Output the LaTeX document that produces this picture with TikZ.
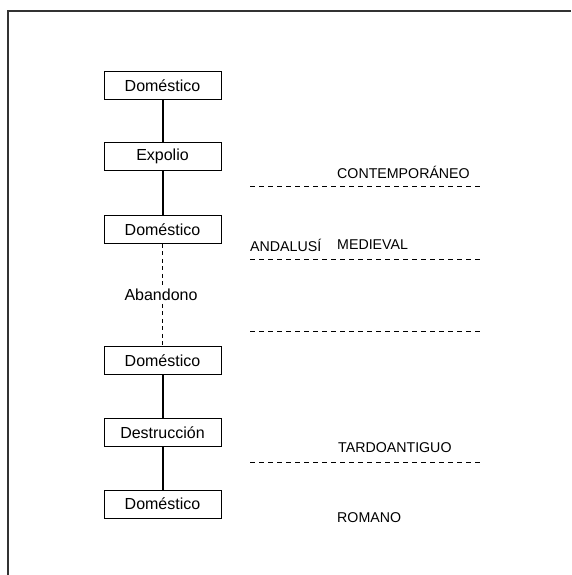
\documentclass[tikz,border=0pt]{standalone}
\usepackage{fontspec}
\setmainfont{Liberation Sans}
\tikzset{
  fase/.style={draw, line width=0.9pt, minimum width=117pt, minimum height=28pt, inner sep=0pt, font=\fontsize{16}{19}\selectfont},
  periodo/.style={anchor=west, inner sep=0pt, font=\fontsize{14.2}{17}\selectfont},
  seq/.style={line width=2pt},
  hueco/.style={line width=0.7pt, dash pattern=on 4pt off 3.5pt},
  corte/.style={line width=0.8pt, dash pattern=on 5pt off 4pt}
}
\begin{document}
\begin{tikzpicture}[x=1pt,y=-1pt]
                \useasboundingbox (0,0) rectangle (571,575);
                \draw[line width=2pt, black!80] (8,575) -- (8,11) -- (571,11);

                \node[fase] (dom1) at (162.5,85.5) {Doméstico};
                \node[fase] (expolio) at (162.5,156.5) {Expolio};
                \node[fase] (dom2) at (162.5,229.5) {Doméstico};
                \node[fase] (dom3) at (162.5,360.5) {Doméstico};
                \node[fase] (destruccion) at (162.5,432.5) {Destrucción};
                \node[fase] (dom4) at (162.5,504) {Doméstico};

                \draw[seq] (dom1) -- (expolio);
                \draw[seq] (expolio) -- (dom2);
                \draw[hueco] (dom2) -- (dom3);
                \node[fill=white, inner sep=1pt, font=\fontsize{16}{19}\selectfont] (abandono) at (161,295) {Abandono};
                \draw[seq] (dom3) -- (destruccion);
                \draw[seq] (destruccion) -- (dom4);

                \node[periodo] (contemporaneo) at (337,172) {CONTEMPORÁNEO};
                \node[periodo] (andalusi) at (250,245) {ANDALUSÍ};
                \node[periodo] (medieval) at (337,245) {MEDIEVAL};
                \node[periodo] (tardoantiguo) at (338,448) {TARDOANTIGUO};
                \node[periodo] (romano) at (337,518) {ROMANO};

                \foreach \y in {186,259,331,462}
                    \draw[corte] (250,\y) -- (483,\y);
            \end{tikzpicture}
\end{document}
